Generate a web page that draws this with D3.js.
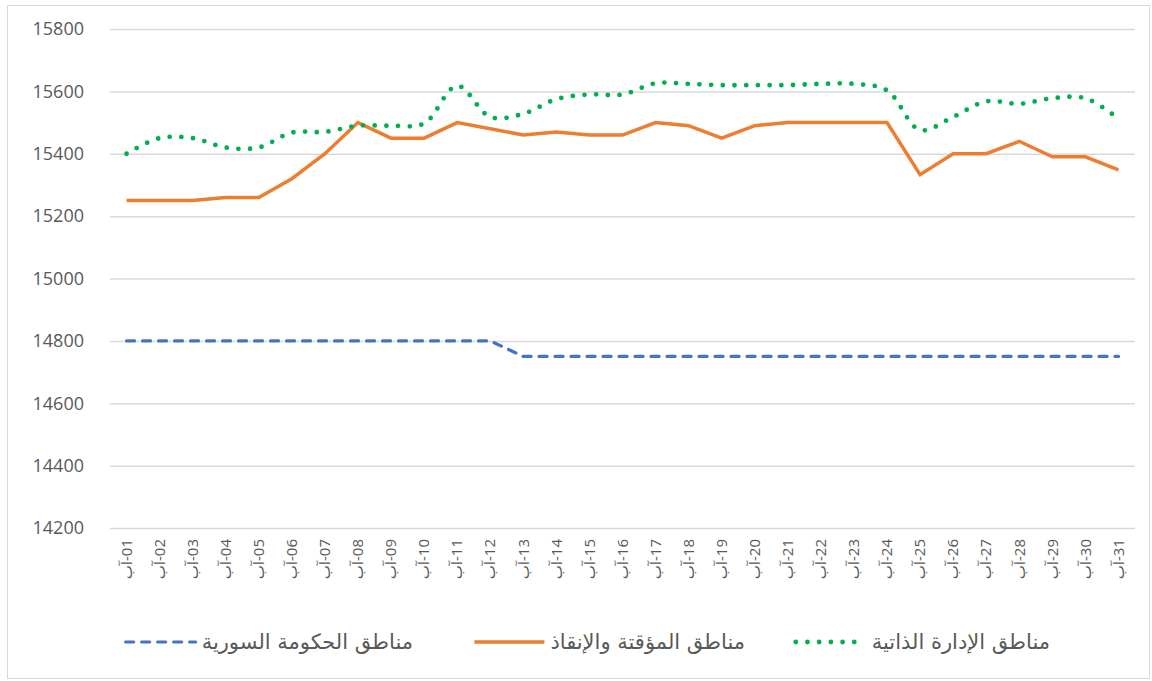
<!DOCTYPE html>
<html><head><meta charset="utf-8">
<script src="https://cdn.jsdelivr.net/npm/d3@7"></script>
<style>
html,body{margin:0;padding:0;background:#fff;}
svg{display:block;}
</style></head>
<body>
<svg id="c" width="1152" height="681"></svg>
<script>
const days = ["01","02","03","04","05","06","07","08","09","10","11","12","13","14","15","16","17","18","19","20","21","22","23","24","25","26","27","28","29","30","31"];
const monthName = "آب";
const yTicks = [14200,14400,14600,14800,15000,15200,15400,15600,15800];

const seriesNames = ["مناطق الحكومة السورية","مناطق المؤقتة والإنقاذ","مناطق الإدارة الذاتية"];
const govValues = [14800,14800,14800,14800,14800,14800,14800,14800,14800,14800,14800,14800,14750,14750,14750,14750,14750,14750,14750,14750,14750,14750,14750,14750,14750,14750,14750,14750,14750,14750,14750];
const interimValues = [15250,15250,15250,15260,15260,15320,15400,15500,15450,15450,15500,15480,15460,15470,15460,15460,15500,15490,15450,15490,15500,15500,15500,15500,15333,15400,15400,15440,15390,15390,15348];
const adminValues = [15400,15450,15450,15420,15420,15468,15470,15490,15490,15497,15618,15518,15528,15575,15590,15590,15626,15624,15620,15620,15620,15624,15624,15603,15476,15518,15568,15560,15578,15578,15512];

const svg = d3.select("#c");
const m = {left:110, right:1135, top:29, bottom:528};

svg.append("rect").attr("x",7.5).attr("y",5.5).attr("width",1142).attr("height",673)
  .attr("fill","#fff").attr("stroke","#d9d9d9").attr("stroke-width",1);

const x = d3.scaleBand().domain(days).range([m.left, m.right]).padding(0);
const xc = d => x(d) + x.bandwidth()/2;
const y = d3.scaleLinear().domain([14200,15800]).range([m.bottom, m.top]);

const yAxis = d3.axisLeft(y).tickValues(yTicks).tickSize(-(m.right-m.left)).tickPadding(26).tickFormat(d3.format("d"));
const gy = svg.append("g").attr("transform",`translate(${m.left},0)`).call(yAxis);
gy.select(".domain").remove();
gy.selectAll(".tick line").attr("stroke","#d9d9d9").attr("stroke-width",1.5);
gy.selectAll(".tick text").attr("fill","#595959").style("font-family","'Open Sans','Noto Sans',sans-serif").style("font-size","18px");

const xAxis = d3.axisBottom(x).tickSize(0).tickFormat(d => "\u200F" + d + "-" + monthName);
const gx = svg.append("g").attr("transform",`translate(0,${m.bottom})`).call(xAxis);
gx.select(".domain").remove();
gx.selectAll(".tick text")
  .attr("fill","#595959")
  .style("font-family","'Open Sans','DejaVu Sans',sans-serif")
  .style("font-size","15px")
  .attr("text-anchor","end")
  .attr("transform","rotate(-90)")
  .attr("x",-11).attr("y",0).attr("dy","0.35em");

const lineLin = d3.line().x((v,i)=>xc(days[i])).y(v=>y(v));
const lineSmooth = d3.line().x((v,i)=>xc(days[i])).y(v=>y(v)).curve(d3.curveCatmullRom.alpha(0.5));

svg.append("path").attr("d", lineLin(govValues)).attr("fill","none")
  .attr("stroke","#4472C4").attr("stroke-width",3.2).attr("stroke-linecap","round")
  .attr("stroke-dasharray","8,8");
svg.append("path").attr("d", lineLin(interimValues)).attr("fill","none")
  .attr("stroke","#ED7D31").attr("stroke-width",3.5).attr("stroke-linejoin","miter");
svg.append("path").attr("d", lineSmooth(adminValues)).attr("fill","none")
  .attr("stroke","#00B050").attr("stroke-width",4.8).attr("stroke-linecap","round")
  .attr("stroke-dasharray","0,11.7");

const legY = 642;
const legItems = [
  {name: seriesNames[0], color:"#4472C4", dash:"8,8", w:3.2, cap:"round", right:413},
  {name: seriesNames[1], color:"#ED7D31", dash:null, w:3.5, cap:"butt", right:745},
  {name: seriesNames[2], color:"#00B050", dash:"0,11.7", w:4.8, cap:"round", right:1050}
];
legItems.forEach(it => {
  const t = svg.append("text").attr("x", it.right).attr("y", legY).attr("dy","0.35em")
    .attr("text-anchor","end")
    .attr("fill","#595959").style("font-family","'DejaVu Sans','Noto Sans',sans-serif")
    .style("font-size","21px").text(it.name);
  const len = t.node().getComputedTextLength();
  const x2 = it.right - len - 6;
  const ln = svg.append("line").attr("x1", x2-70).attr("x2", x2).attr("y1", legY).attr("y2", legY)
    .attr("stroke", it.color).attr("stroke-width", it.w).attr("stroke-linecap", it.cap);
  if (it.dash) ln.attr("stroke-dasharray", it.dash);
});
</script>
</body></html>
